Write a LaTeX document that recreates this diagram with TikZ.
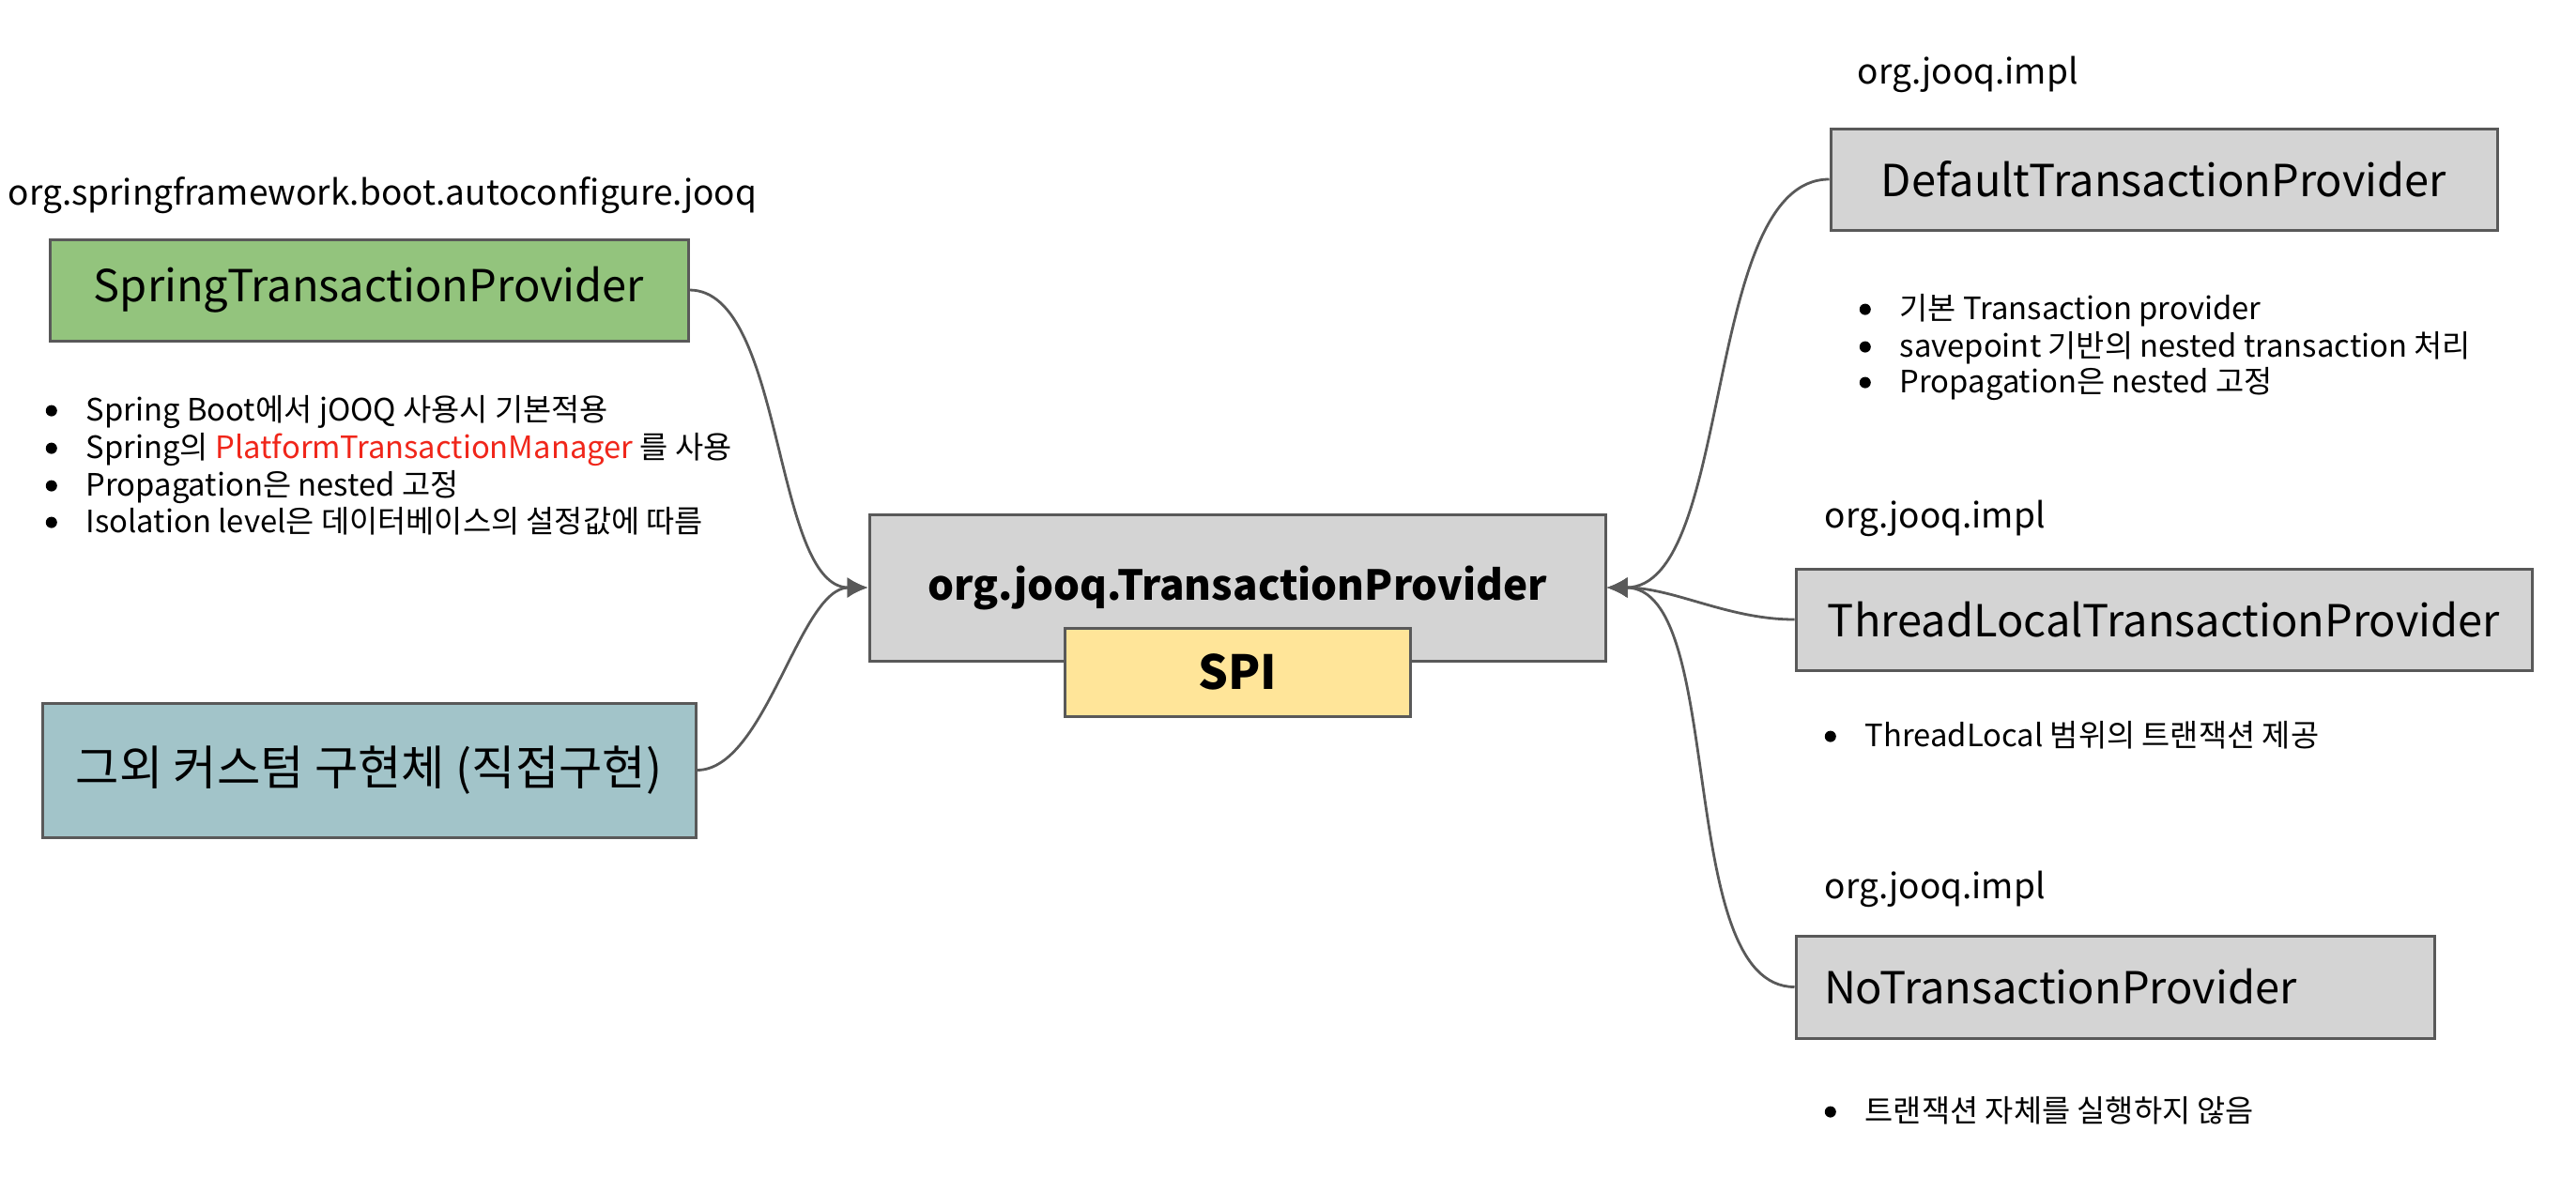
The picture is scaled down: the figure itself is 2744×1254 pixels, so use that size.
\documentclass[tikz,border=0pt]{standalone}
\usepackage{fontspec}
\setmainfont{Noto Sans CJK KR}
\usetikzlibrary{arrows.meta}
\definecolor{linegray}{HTML}{595959}
\definecolor{boxgray}{HTML}{D4D4D4}
\definecolor{boxgreen}{HTML}{93C47D}
\definecolor{boxteal}{HTML}{A2C4C9}
\definecolor{boxyellow}{HTML}{FFE599}
\definecolor{txtred}{HTML}{F0261A}
\newcommand\bul{\makebox[10.75pt][l]{\tikz[baseline=0pt]\fill[black] (1.5pt,2.6pt) circle[radius=1.5pt];}}
\tikzset{
  box/.style={draw=linegray, line width=0.75pt, inner sep=0pt, font=\fontsize{11.75pt}{14pt}\selectfont},
  pkg/.style={anchor=base west, inner sep=0pt, font=\fontsize{9.25pt}{11pt}\selectfont},
  blt/.style={anchor=base west, inner sep=0pt, font=\fontsize{8.2pt}{9.5pt}\selectfont},
  conn/.style={draw=linegray, line width=0.7pt, -{Latex[length=5.5pt,width=5.5pt]}},
}
\begin{document}
\begin{tikzpicture}[x=0.25pt,y=-0.25pt]
\useasboundingbox (0,0) rectangle (2744,1254);
% left side
\node[pkg] (pkgspring) at (8,218) {org.springframework.boot.autoconfigure.jooq};
\node[box, fill=boxgreen, minimum width=170pt, minimum height=27pt] (spring) at (393,309) {SpringTransactionProvider};
\node[blt] (s1) at (48,448) {\bul Spring Boot에서 jOOQ 사용시 기본적용};
\node[blt] (s2) at (48,488) {\bul Spring의 \textcolor{txtred}{PlatformTransactionManager} 를 사용};
\node[blt] (s3) at (48,528) {\bul Propagation은 nested 고정};
\node[blt] (s4) at (48,567) {\bul Isolation level은 데이터베이스의 설정값에 따름};
\node[box, fill=boxteal, minimum width=174pt, minimum height=35.75pt, font=\fontsize{12.6pt}{15pt}\selectfont] (custom) at (393,820.5) {그외 커스텀 구현체 (직접구현)};
% center
\node[box, fill=boxgray, minimum width=196pt, minimum height=39pt, font=\bfseries\fontsize{11pt}{13pt}\selectfont] (spi) at (1318,626) {org.jooq.TransactionProvider};
\node[box, fill=boxyellow, minimum width=92pt, minimum height=23.5pt, font=\bfseries\fontsize{12.5pt}{15pt}\selectfont] (spitag) at (1318,716) {SPI};
% right side
\node[pkg] (pkgdef) at (1978,89) {org.jooq.impl};
\node[box, fill=boxgray, minimum width=177.5pt, minimum height=27pt] (default) at (2305,191) {DefaultTransactionProvider};
\node[blt] (d1) at (1980,340) {\bul 기본 Transaction provider};
\node[blt] (d2) at (1980,380) {\bul savepoint 기반의 nested transaction 처리};
\node[blt] (d3) at (1980,418) {\bul Propagation은 nested 고정};
\node[pkg] (pkgthr) at (1943,562) {org.jooq.impl};
\node[box, fill=boxgray, minimum width=196pt, minimum height=27pt] (thread) at (2305,660) {ThreadLocalTransactionProvider};
\node[blt] (t1) at (1943,795) {\bul ThreadLocal 범위의 트랜잭션 제공};
\node[pkg] (pkgno) at (1943,957) {org.jooq.impl};
\node[box, fill=boxgray, minimum width=170pt, minimum height=27.25pt, align=left, text width=155pt] (none) at (2253,1051.5) {NoTransactionProvider};
\node[blt] (n1) at (1943,1195) {\bul 트랜잭션 자체를 실행하지 않음};
% connectors
\draw[conn] (spring.east) to[out=0,in=180,looseness=0.7] (spi.west);
\draw[conn] (custom.east) to[out=0,in=180,looseness=0.7] (spi.west);
\draw[conn] (default.west) to[out=180,in=0,looseness=0.7] (spi.east);
\draw[conn] (thread.west) to[out=180,in=0,looseness=0.9] (spi.east);
\draw[conn] (none.west) to[out=180,in=0,looseness=0.7] (spi.east);
\end{tikzpicture}
\end{document}
